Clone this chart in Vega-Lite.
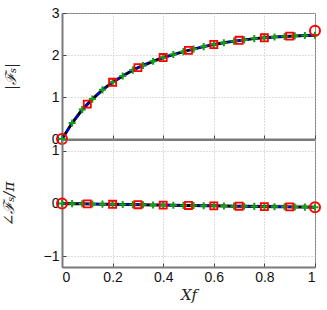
{
  "$schema": "https://vega.github.io/schema/vega-lite/v6.json",
  "background": "white",
  "padding": {"left": 0, "top": 5, "right": 8, "bottom": 0},
  "spacing": 1,
  "bounds": "flush",
  "datasets": {
    "fine": [
      {"x": 0.00, "mag": 0.00, "phase": 0.000},
      {"x": 0.04, "mag": 0.38, "phase": -0.003},
      {"x": 0.08, "mag": 0.70, "phase": -0.006},
      {"x": 0.12, "mag": 0.95, "phase": -0.009},
      {"x": 0.16, "mag": 1.17, "phase": -0.012},
      {"x": 0.20, "mag": 1.35, "phase": -0.015},
      {"x": 0.24, "mag": 1.50, "phase": -0.018},
      {"x": 0.28, "mag": 1.64, "phase": -0.021},
      {"x": 0.32, "mag": 1.75, "phase": -0.024},
      {"x": 0.36, "mag": 1.85, "phase": -0.027},
      {"x": 0.40, "mag": 1.94, "phase": -0.030},
      {"x": 0.44, "mag": 2.01, "phase": -0.033},
      {"x": 0.48, "mag": 2.08, "phase": -0.036},
      {"x": 0.52, "mag": 2.14, "phase": -0.038},
      {"x": 0.56, "mag": 2.20, "phase": -0.041},
      {"x": 0.60, "mag": 2.25, "phase": -0.044},
      {"x": 0.64, "mag": 2.29, "phase": -0.047},
      {"x": 0.68, "mag": 2.33, "phase": -0.050},
      {"x": 0.72, "mag": 2.36, "phase": -0.052},
      {"x": 0.76, "mag": 2.39, "phase": -0.055},
      {"x": 0.80, "mag": 2.41, "phase": -0.058},
      {"x": 0.84, "mag": 2.43, "phase": -0.061},
      {"x": 0.88, "mag": 2.44, "phase": -0.063},
      {"x": 0.92, "mag": 2.455, "phase": -0.066},
      {"x": 0.96, "mag": 2.465, "phase": -0.068},
      {"x": 1.00, "mag": 2.47, "phase": -0.070}
    ],
    "coarse": [
      {"x": 0.1, "mag": 0.83, "phase": -0.008},
      {"x": 0.2, "mag": 1.35, "phase": -0.015},
      {"x": 0.3, "mag": 1.70, "phase": -0.023},
      {"x": 0.4, "mag": 1.94, "phase": -0.030},
      {"x": 0.5, "mag": 2.11, "phase": -0.037},
      {"x": 0.6, "mag": 2.25, "phase": -0.044},
      {"x": 0.7, "mag": 2.35, "phase": -0.051},
      {"x": 0.8, "mag": 2.41, "phase": -0.058},
      {"x": 0.9, "mag": 2.45, "phase": -0.064}
    ],
    "ends": [
      {"x": 0, "mag": 0, "phase": 0},
      {"x": 1, "mag": 2.58, "phase": -0.07}
    ]
  },
  "config": {
    "view": {"stroke": "#7a7a7a", "strokeWidth": 1},
    "font": "Liberation Sans",
    "axis": {
      "domainColor": "#7a7a7a",
      "domainWidth": 2,
      "tickColor": "#444444",
      "tickSize": -4,
      "tickWidth": 1,
      "gridColor": "#bbbbbb",
      "gridDash": [1, 2],
      "gridWidth": 1,
      "labelFont": "Liberation Sans",
      "labelFontSize": 14,
      "labelColor": "#111111",
      "titleFont": "DejaVu Serif",
      "titleFontStyle": "italic",
      "titleFontWeight": "normal",
      "titleFontSize": 15,
      "titleColor": "#222222"
    }
  },
  "vconcat": [
    {
      "width": 253,
      "height": 126,
      "encoding": {
        "x": {"field": "x", "type": "quantitative", "scale": {"domain": [0, 1], "nice": false},
              "axis": {"values": [0, 0.2, 0.4, 0.6, 0.8, 1], "labels": false, "title": null}},
        "y": {"field": "mag", "type": "quantitative", "scale": {"domain": [0, 3], "nice": false},
              "axis": {"values": [0, 1, 2, 3], "title": "|ℱₛ|", "labelPadding": 7, "titlePadding": 33}}
      },
      "layer": [
        {"data": {"name": "fine"}, "mark": {"type": "line", "color": "black", "strokeWidth": 3}},
        {"data": {"name": "fine"}, "mark": {"type": "line", "color": "#0000ff", "strokeWidth": 1.8, "strokeDash": [5, 3]}},
        {"data": {"name": "fine"}, "mark": {"type": "point", "shape": "M-1,0H1M0,-1V1", "filled": false, "color": "#14a014", "size": 50, "strokeWidth": 2, "opacity": 1}},
        {"data": {"name": "coarse"}, "mark": {"type": "square", "filled": false, "color": "#ff0000", "size": 50, "strokeWidth": 1.8, "opacity": 1}},
        {"data": {"name": "ends"}, "mark": {"type": "circle", "filled": false, "color": "#ff0000", "size": 100, "strokeWidth": 2, "opacity": 1}},
        {"data": {"name": "ends"}, "transform": [{"filter": "datum.x == 0"}], "mark": {"type": "point", "shape": "M-1,0H1M0,-1V1", "filled": false, "color": "#14a014", "size": 50, "strokeWidth": 2, "opacity": 1}}
      ]
    },
    {
      "width": 253,
      "height": 127,
      "encoding": {
        "x": {"field": "x", "type": "quantitative", "scale": {"domain": [0, 1], "nice": false},
              "axis": {"values": [0, 0.2, 0.4, 0.6, 0.8, 1], "format": ".1~f", "title": "Xf", "labelPadding": 7, "titlePadding": 3}},
        "y": {"field": "phase", "type": "quantitative", "scale": {"domain": [-1.2, 1.2], "nice": false},
              "axis": {"values": [-1, 0, 1], "title": "∠ℱₛ/π", "labelPadding": 7, "titlePadding": 27, "labelExpr": "datum.value < 0 ? '−' + abs(datum.value) : datum.label"}}
      },
      "layer": [
        {"data": {"name": "fine"}, "mark": {"type": "line", "color": "black", "strokeWidth": 3}},
        {"data": {"name": "fine"}, "mark": {"type": "line", "color": "#0000ff", "strokeWidth": 1.8, "strokeDash": [5, 3]}},
        {"data": {"name": "fine"}, "mark": {"type": "point", "shape": "M-1,0H1M0,-1V1", "filled": false, "color": "#14a014", "size": 50, "strokeWidth": 2, "opacity": 1}},
        {"data": {"name": "coarse"}, "mark": {"type": "square", "filled": false, "color": "#ff0000", "size": 50, "strokeWidth": 1.8, "opacity": 1}},
        {"data": {"name": "ends"}, "mark": {"type": "circle", "filled": false, "color": "#ff0000", "size": 100, "strokeWidth": 2, "opacity": 1}}
      ]
    }
  ]
}
